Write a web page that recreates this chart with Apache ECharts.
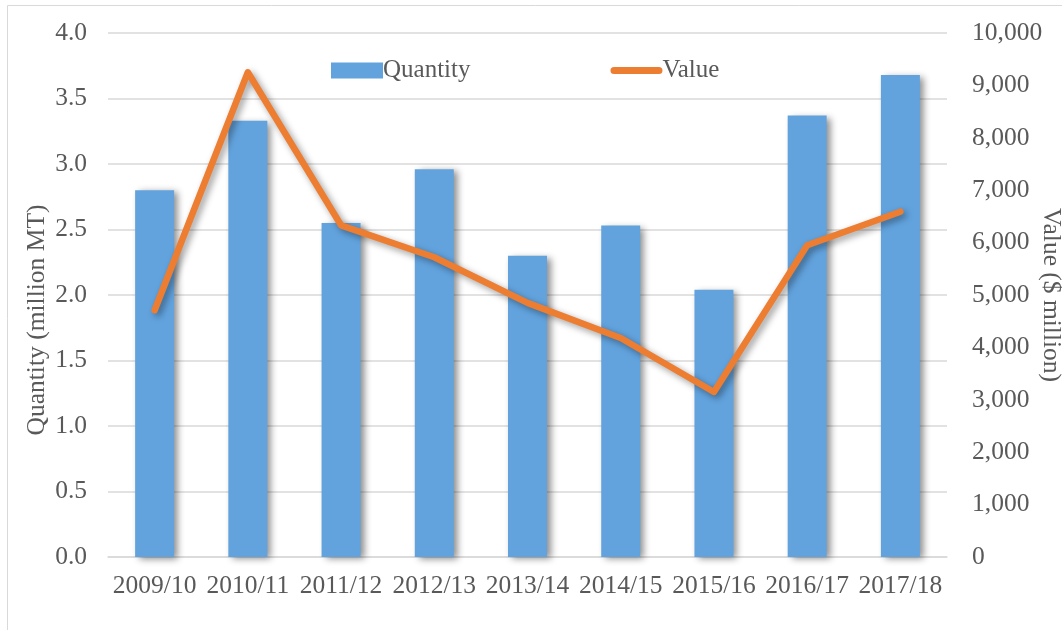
<!DOCTYPE html>
<html>
<head>
<meta charset="utf-8">
<script src="https://cdn.jsdelivr.net/npm/echarts@6/dist/echarts.min.js"></script>
<style>
html,body{margin:0;padding:0;background:#fff;}
#chart{width:1062px;height:630px;}
</style>
</head>
<body>
<div id="chart"></div>
<script>
const categories = ['2009/10','2010/11','2011/12','2012/13','2013/14','2014/15','2015/16','2016/17','2017/18'];
const quantity = [2.80, 3.33, 2.55, 2.96, 2.30, 2.53, 2.04, 3.37, 3.68];
const value = [4710, 9250, 6330, 5720, 4850, 4180, 3150, 5950, 6590];
const leftTicks = ['0.0','0.5','1.0','1.5','2.0','2.5','3.0','3.5','4.0'];
const rightTicks = ['0','1,000','2,000','3,000','4,000','5,000','6,000','7,000','8,000','9,000','10,000'];

const FONT = "'Liberation Serif','Times New Roman',serif";
const TXT = '#595959';
const chart = echarts.init(document.getElementById('chart'));
chart.setOption({
  animation: false,
  textStyle: { fontFamily: FONT },
  graphic: [{
    type: 'rect', shape: { x: 7.5, y: 5.5, width: 1080, height: 640 },
    style: { fill: 'none', stroke: '#d9d9d9', lineWidth: 1 }, silent: true
  }],
  legend: {
    left: 326, top: 53,
    itemWidth: 52, itemHeight: 16, itemGap: 140,
    textStyle: { fontFamily: FONT, fontSize: 25, color: TXT, padding: [0,0,0,-5] },
    data: [
      { name: 'Quantity', icon: 'rect' },
      { name: 'Value', icon: 'path://M4,0 L54,0 A4,4 0 0 1 54,8 L4,8 A4,4 0 0 1 4,0 Z' }
    ]
  },
  grid: { left: 108, right: 115, top: 33, bottom: 73, outerBoundsMode: 'none', containLabel: false },
  xAxis: {
    type: 'category', data: categories,
    axisLine: { show: true, lineStyle: { color: '#d9d9d9', width: 1.5 } },
    axisTick: { show: false },
    axisLabel: { color: TXT, fontSize: 25.5, fontFamily: FONT, margin: 16, interval: 0 }
  },
  yAxis: [{
    type: 'value', min: 0, max: 4, interval: 0.5,
    name: 'Quantity (million MT)', nameLocation: 'middle', nameGap: 58, nameRotate: 90,
    nameMoveOverlap: false,
    nameTextStyle: { color: TXT, fontSize: 25.5, fontFamily: FONT, padding: [0, 50, 0, 0] },
    axisLine: { show: false }, axisTick: { show: false },
    splitLine: { lineStyle: { color: '#d9d9d9', width: 1.5 } },
    axisLabel: { color: TXT, fontSize: 25.5, fontFamily: FONT, margin: 21,
      formatter: (v) => leftTicks[Math.round(v / 0.5)] }
  }, {
    type: 'value', min: 0, max: 10000, interval: 1000, position: 'right',
    name: 'Value ($ million)', nameLocation: 'middle', nameGap: 91, nameRotate: -90,
    nameMoveOverlap: false,
    nameTextStyle: { color: TXT, fontSize: 25.5, fontFamily: FONT },
    axisLine: { show: false }, axisTick: { show: false },
    splitLine: { show: false },
    axisLabel: { color: TXT, fontSize: 25.5, fontFamily: FONT, margin: 25,
      formatter: (v) => rightTicks[Math.round(v / 1000)] }
  }],
  series: [{
    name: 'Quantity', type: 'bar', data: quantity, yAxisIndex: 0,
    barWidth: 39,
    itemStyle: { color: '#62a3de', shadowColor: 'rgba(0,0,0,0.45)', shadowBlur: 7, shadowOffsetX: 4, shadowOffsetY: 2 }
  }, {
    name: 'Value', type: 'line', data: value, yAxisIndex: 1,
    symbol: 'none', z: 5,
    lineStyle: { color: '#ED7D31', width: 6.5, cap: 'round', join: 'round',
      shadowColor: 'rgba(0,0,0,0.4)', shadowBlur: 7, shadowOffsetX: 3, shadowOffsetY: 3 },
    itemStyle: { color: '#ED7D31' }
  }]
});
</script>
</body>
</html>
